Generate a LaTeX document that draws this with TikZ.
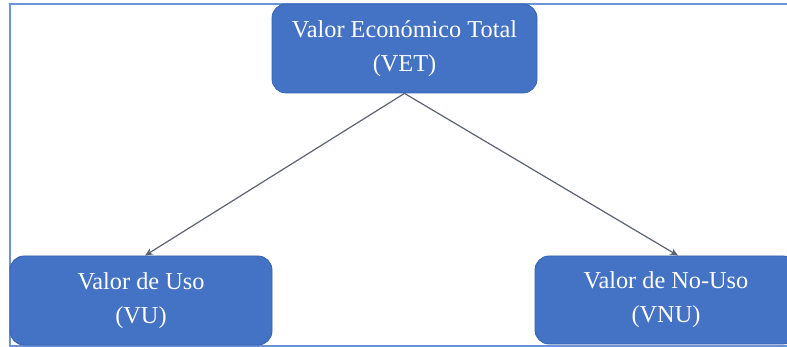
\documentclass[tikz,border=0pt]{standalone}
\usepackage{fontspec}
\setmainfont{Liberation Serif}
\usetikzlibrary{arrows.meta}
\definecolor{boxfill}{HTML}{4472C4}
\definecolor{boxline}{HTML}{3A63AE}
\definecolor{framecol}{HTML}{6B93DA}
\definecolor{linkcol}{HTML}{5A6272}
\tikzset{
  valuebox/.style={draw=boxline, line width=0.8pt, fill=boxfill, rounded corners=14pt,
    text=white, align=center, inner sep=0pt,
    font=\fontsize{24.3}{34}\selectfont},
  link/.style={draw=linkcol, line width=1.2pt, -{Stealth[length=8pt,width=7pt]}},
}
\begin{document}
\begin{tikzpicture}[x=1pt,y=-1pt]
  \useasboundingbox (0,0) rectangle (787,347);
  \clip (0,0) rectangle (787,347);
  % surrounding frame
  \draw[framecol, line width=2pt] (805,4) -- (9.5,4) -- (9.5,346) -- (805,346);
  % value boxes
  \node[valuebox, minimum width=265pt, minimum height=89pt] (vet) at (404.5,48.5)
    {Valor Económico Total\\(VET)};
  \node[valuebox, minimum width=262pt, minimum height=89pt] (vu) at (141,300.5)
    {Valor de Uso\\(VU)};
  \node[valuebox, minimum width=262pt, minimum height=88pt] (vnu) at (666,300)
    {Valor de No-Uso\\(VNU)};
  % links
  \draw[link] (vet.south) -- ([xshift=4pt]vu.north);
  \draw[link] (vet.south) -- ([xshift=12pt]vnu.north);
\end{tikzpicture}
\end{document}
